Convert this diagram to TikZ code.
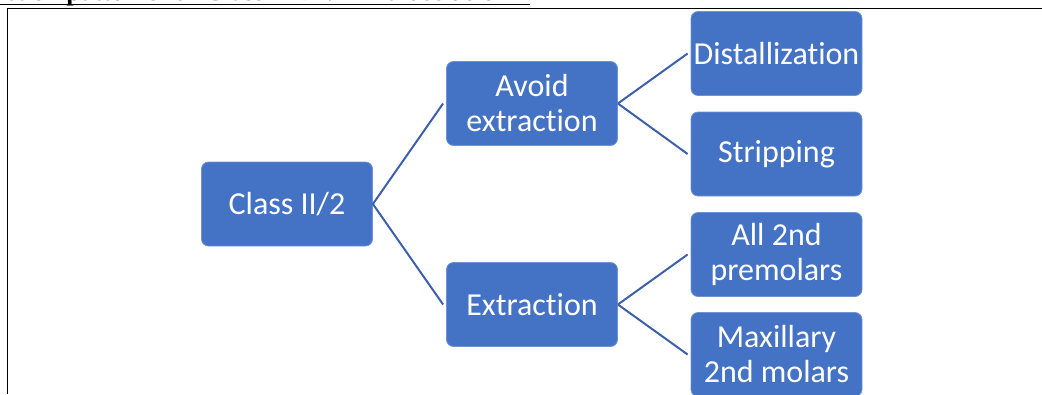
\documentclass[tikz,border=0pt]{standalone}
\usepackage{fontspec}
\setmainfont[Ligatures=NoCommon]{Carlito}
\newfontfamily\titlefont{Liberation Serif}
\definecolor{boxblue}{HTML}{4472C4}
\definecolor{linkblue}{RGB}{61,96,170}
\definecolor{boxedge}{HTML}{6F93D3}
\begin{document}
\begin{tikzpicture}[x=1pt,y=-1pt,
  box/.style={rectangle, rounded corners=7pt, fill=boxblue, draw=boxedge, line width=0.8pt,
    minimum width=171pt, minimum height=84pt, inner sep=0pt, text=white, align=center,
    font=\fontsize{32}{35}\selectfont},
  link/.style={draw=linkblue, line width=2pt}]
\useasboundingbox (0,0) rectangle (1042,394);
\clip (0,0) rectangle (1042,394);
% cropped title
\node[anchor=base east, inner sep=0pt, font=\titlefont\bfseries\fontsize{26}{30}\selectfont] (title) at (510,0.8) {Extraction patterns for Class II Div 2 Malocclusion};
\draw[line width=1.8pt] (0,4.5) -- (530,4.5);
% frame
\draw[line width=1.8pt, line join=miter] (7.5,394) -- (7.5,8.5) -- (1042,8.5);
% nodes
\node[box] (cls) at (287,204) {Class II/2};
\node[box] (avo) at (532,103.5) {Avoid\\extraction};
\node[box] (ext) at (532,304.5) {Extraction};
\node[box] (dis) at (776.5,53.5) {Distallization};
\node[box] (str) at (776.5,154) {Stripping};
\node[box] (pre) at (776.5,254.5) {All 2nd\\premolars};
\node[box] (max) at (776.5,354.5) {Maxillary\\2nd molars};
% connectors
\draw[link] (cls.east) -- ([xshift=-3pt]avo.west);
\draw[link] (cls.east) -- ([xshift=-3pt]ext.west);
\draw[link] (avo.east) -- ([xshift=-3pt]dis.west);
\draw[link] (avo.east) -- ([xshift=-3pt]str.west);
\draw[link] (ext.east) -- ([xshift=-3pt]pre.west);
\draw[link] (ext.east) -- ([xshift=-3pt]max.west);
\end{tikzpicture}
\end{document}
